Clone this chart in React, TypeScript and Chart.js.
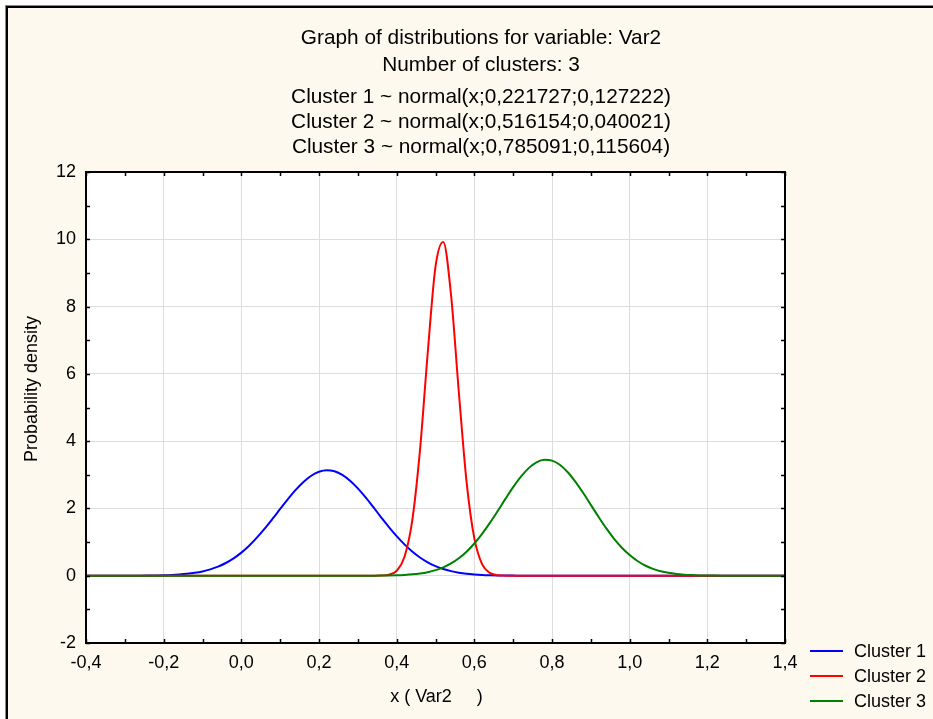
import React, { useEffect, useRef } from "react";
import { Chart, registerables } from "chart.js";

Chart.register(...registerables);

const FONT = "'Liberation Sans', Arial, sans-serif";

const titleLines = [
  "Graph of distributions for variable: Var2",
  "Number of clusters: 3",
  "Cluster 1 ~ normal(x;0,221727;0,127222)",
  "Cluster 2 ~ normal(x;0,516154;0,040021)",
  "Cluster 3 ~ normal(x;0,785091;0,115604)",
];

const xAxisTitle = "x ( Var2     )";
const yAxisTitle = "Probability density";

const seriesNames = ["Cluster 1", "Cluster 2", "Cluster 3"];
const seriesColors = ["#0000ff", "#ff0000", "#008000"];

const xValues = [
  -0.4, -0.38, -0.36, -0.34, -0.32, -0.3, -0.28, -0.26, -0.24, -0.22,
  -0.2, -0.18, -0.16, -0.14, -0.12, -0.1, -0.08, -0.06, -0.04, -0.02,
  0.0, 0.02, 0.04, 0.06, 0.08, 0.1, 0.12, 0.14, 0.16, 0.18,
  0.2, 0.22, 0.24, 0.26, 0.28, 0.3, 0.32, 0.34, 0.36, 0.38,
  0.4, 0.42, 0.44, 0.46, 0.48, 0.5, 0.52, 0.54, 0.56, 0.58,
  0.6, 0.62, 0.64, 0.66, 0.68, 0.7, 0.72, 0.74, 0.76, 0.78,
  0.8, 0.82, 0.84, 0.86, 0.88, 0.9, 0.92, 0.94, 0.96, 0.98,
  1.0, 1.02, 1.04, 1.06, 1.08, 1.1, 1.12, 1.14, 1.16, 1.18,
  1.2, 1.22, 1.24, 1.26, 1.28, 1.3, 1.32, 1.34, 1.36, 1.38,
  1.4,
];

const cluster1 = [
  0, 0, 0, 0, 0, 0.001, 0.001, 0.002, 0.004, 0.008,
  0.013, 0.021, 0.035, 0.055, 0.085, 0.128, 0.189, 0.27, 0.378, 0.516,
  0.687, 0.892, 1.131, 1.398, 1.686, 1.984, 2.278, 2.551, 2.788, 2.972,
  3.091, 3.136, 3.104, 2.997, 2.823, 2.595, 2.327, 2.036, 1.737, 1.446,
  1.175, 0.931, 0.72, 0.543, 0.399, 0.287, 0.201, 0.137, 0.091, 0.059,
  0.038, 0.023, 0.014, 0.008, 0.005, 0.003, 0.002, 0.001, 0, 0,
  0, 0, 0, 0, 0, 0, 0, 0, 0, 0,
  0, 0, 0, 0, 0, 0, 0, 0, 0, 0,
  0, 0, 0, 0, 0, 0, 0, 0, 0, 0,
  0,
];

const cluster2 = [
  0, 0, 0, 0, 0, 0, 0, 0, 0, 0,
  0, 0, 0, 0, 0, 0, 0, 0, 0, 0,
  0, 0, 0, 0, 0, 0, 0, 0, 0, 0,
  0, 0, 0, 0, 0, 0, 0, 0.001, 0.005, 0.031,
  0.148, 0.556, 1.63, 3.724, 6.628, 9.189, 9.922, 8.346, 5.469, 2.792,
  1.11, 0.344, 0.083, 0.016, 0.002, 0, 0, 0, 0, 0,
  0, 0, 0, 0, 0, 0, 0, 0, 0, 0,
  0, 0, 0, 0, 0, 0, 0, 0, 0, 0,
  0, 0, 0, 0, 0, 0, 0, 0, 0, 0,
  0,
];

const cluster3 = [
  0, 0, 0, 0, 0, 0, 0, 0, 0, 0,
  0, 0, 0, 0, 0, 0, 0, 0, 0, 0,
  0, 0, 0, 0, 0, 0, 0, 0, 0, 0,
  0, 0, 0, 0, 0, 0.001, 0.001, 0.002, 0.004, 0.007,
  0.013, 0.024, 0.04, 0.066, 0.106, 0.165, 0.249, 0.365, 0.518, 0.715,
  0.958, 1.244, 1.57, 1.921, 2.283, 2.632, 2.945, 3.198, 3.371, 3.448,
  3.422, 3.297, 3.083, 2.797, 2.464, 2.106, 1.747, 1.406, 1.098, 0.833,
  0.613, 0.438, 0.304, 0.204, 0.133, 0.085, 0.052, 0.031, 0.018, 0.01,
  0.006, 0.003, 0.002, 0.001, 0, 0, 0, 0, 0, 0,
  0,
];

const seriesValues = [cluster1, cluster2, cluster3];

const X_MIN = -0.4;
const X_MAX = 1.4;
const X_STEP = 0.2;
const Y_MIN = -2;
const Y_MAX = 12;
const Y_STEP = 2;

const W = 933;
const H = 719;

const fmtX = (v: number) => {
  if (Math.abs(v) < 1e-9) return "0,0";
  return v.toFixed(1).replace(".", ",");
};

const decorPlugin = {
  id: "decor",
  beforeDraw(chart: any) {
    const ctx = chart.ctx as CanvasRenderingContext2D;
    const a = chart.chartArea;
    ctx.save();
    ctx.fillStyle = "#ffffff";
    ctx.fillRect(0, 0, W, H);
    ctx.fillStyle = "#fdf9ee";
    ctx.fillRect(8, 8, W - 8, H - 8);
    ctx.fillStyle = "#888";
    ctx.fillRect(5, 5, 1, H - 5);
    ctx.fillRect(5, 5, W - 5, 1);
    ctx.fillStyle = "#000";
    ctx.fillRect(6, 6, 2, H - 6);
    ctx.fillRect(6, 6, W - 6, 2);
    ctx.fillStyle = "#ffffff";
    ctx.fillRect(a.left, a.top, a.right - a.left, a.bottom - a.top);
    ctx.restore();
  },
  afterDraw(chart: any) {
    const ctx = chart.ctx as CanvasRenderingContext2D;
    const a = chart.chartArea;
    const xs = chart.scales.x;
    const ys = chart.scales.y;
    ctx.save();
    // frame
    ctx.strokeStyle = "#000";
    ctx.lineWidth = 2;
    ctx.strokeRect(a.left, a.top, a.right - a.left, a.bottom - a.top);
    // inward ticks
    ctx.lineWidth = 1.5;
    ctx.beginPath();
    const tl = 4;
    for (let k = 0; k <= Math.round((X_MAX - X_MIN) / (X_STEP / 2)); k++) {
      const v = X_MIN + (k * X_STEP) / 2;
      const px = Math.round(xs.getPixelForValue(v)) + 0.5;
      ctx.moveTo(px, a.bottom);
      ctx.lineTo(px, a.bottom - tl);
      ctx.moveTo(px, a.top);
      ctx.lineTo(px, a.top + tl);
    }
    for (let k = 0; k <= Math.round((Y_MAX - Y_MIN) / (Y_STEP / 2)); k++) {
      const v = Y_MIN + (k * Y_STEP) / 2;
      const py = Math.round(ys.getPixelForValue(v)) + 0.5;
      ctx.moveTo(a.left, py);
      ctx.lineTo(a.left + tl, py);
      ctx.moveTo(a.right, py);
      ctx.lineTo(a.right - tl, py);
    }
    ctx.stroke();

    // titles
    ctx.fillStyle = "#000";
    ctx.textAlign = "center";
    ctx.textBaseline = "middle";
    ctx.font = `20.8px ${FONT}`;
    const titleY = [38, 65, 97, 122, 147];
    titleLines.forEach((t, i) => ctx.fillText(t, 481, titleY[i]));

    // axis titles
    ctx.font = `18px ${FONT}`;
    ctx.fillText(xAxisTitle, (a.left + a.right) / 2 + 1, 697);
    ctx.save();
    ctx.translate(32, 389);
    ctx.rotate(-Math.PI / 2);
    ctx.fillText(yAxisTitle, 0, 0);
    ctx.restore();

    // legend
    ctx.textAlign = "left";
    ctx.font = `18px ${FONT}`;
    const legY = [651, 676, 701];
    seriesNames.forEach((n, i) => {
      ctx.strokeStyle = seriesColors[i];
      ctx.lineWidth = 2;
      ctx.beginPath();
      ctx.moveTo(810, legY[i]);
      ctx.lineTo(843, legY[i]);
      ctx.stroke();
      ctx.fillStyle = "#000";
      ctx.fillText(n, 854, legY[i] + 1);
    });
    ctx.restore();
  },
};

export default function App() {
  const ref = useRef<HTMLCanvasElement | null>(null);

  useEffect(() => {
    if (!ref.current) return;
    const datasets = seriesNames.map((name, i) => ({
      label: name,
      data: xValues.map((x, j) => ({ x, y: seriesValues[i][j] })),
      borderColor: seriesColors[i],
      backgroundColor: seriesColors[i],
      borderWidth: 2,
      pointRadius: 0,
      pointHoverRadius: 0,
      fill: false,
      cubicInterpolationMode: "monotone" as const,
      order: 2 - i,
    }));
    const chart = new Chart(ref.current, {
      type: "line",
      data: { datasets },
      plugins: [decorPlugin],
      options: {
        animation: false,
        responsive: false,
        devicePixelRatio: 1,
        events: [],
        layout: { padding: { top: 172, right: 148, left: 0, bottom: 0 } },
        plugins: {
          legend: { display: false },
          title: { display: false },
          tooltip: { enabled: false },
        },
        scales: {
          x: {
            type: "linear",
            min: X_MIN,
            max: X_MAX,
            afterFit: (s: any) => {
              s.height = 76;
            },
            ticks: {
              stepSize: X_STEP,
              color: "#000",
              font: { family: FONT, size: 18 },
              padding: 9,
              maxRotation: 0,
              autoSkip: false,
              callback: (v: any) => fmtX(Number(v)),
            },
            grid: { color: "#dddddd", drawTicks: false, lineWidth: 1 },
            border: { display: false },
          },
          y: {
            type: "linear",
            min: Y_MIN,
            max: Y_MAX,
            afterFit: (s: any) => {
              s.width = 86;
            },
            ticks: {
              stepSize: Y_STEP,
              color: "#000",
              font: { family: FONT, size: 18 },
              padding: 10,
              autoSkip: false,
              callback: (v: any) => String(Math.round(Number(v))),
            },
            grid: { color: "#dddddd", drawTicks: false, lineWidth: 1 },
            border: { display: false },
          },
        },
      },
    });
    return () => chart.destroy();
  }, []);

  return (
    <div style={{ position: "fixed", left: 0, top: 0, width: W, height: H }}>
      <canvas ref={ref} width={W} height={H} style={{ display: "block" }} />
    </div>
  );
}
